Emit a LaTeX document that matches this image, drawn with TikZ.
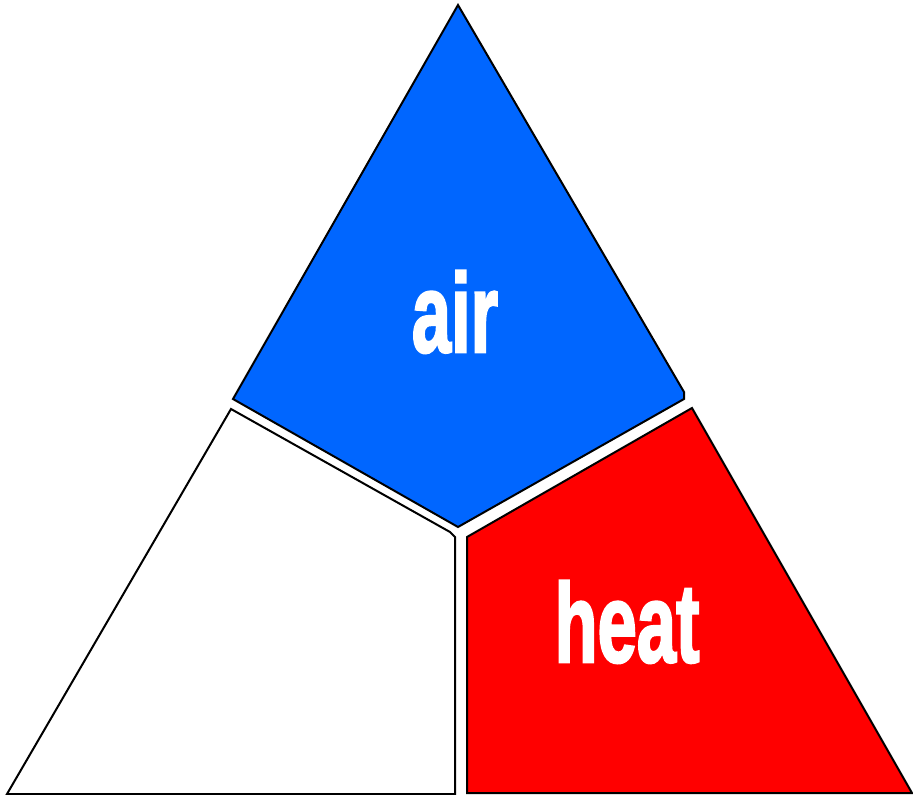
\documentclass[tikz,border=0pt]{standalone}
\usepackage{fontspec}
\setmainfont{Liberation Sans}
\newfontfamily\heavyfont[FakeBold=2.5]{Liberation Sans Bold}
\definecolor{airblue}{RGB}{0,102,255}
\definecolor{heatred}{RGB}{255,0,0}
\tikzset{
  piece/.style={draw=black, line width=2pt, line join=miter},
  label/.style={text=white, font=\fontsize{112}{112}\selectfont\heavyfont, inner sep=0pt, anchor=base}
}
\begin{document}
\begin{tikzpicture}[x=1pt,y=-1pt]
\useasboundingbox (0,0) rectangle (913,795);
\fill[white] (0,0) rectangle (913,795);
% air (blue)
\filldraw[piece, fill=airblue] (458,5) -- (684,392) -- (684,399) -- (458,527) -- (233,399) -- cycle;
% empty (white)
\draw[piece] (231,409) -- (450,532) -- (455,537) -- (455,794) -- (7,794) -- cycle;
% heat (red)
\filldraw[piece, fill=heatred] (692,408) -- (912,793) -- (467,793) -- (467,537) -- cycle;
\node[label] (air) at (455,352) {\scalebox{0.63}[1]{air}};
\node[label] (heat) at (627,662) {\scalebox{0.63}[1]{heat}};
\end{tikzpicture}
\end{document}
